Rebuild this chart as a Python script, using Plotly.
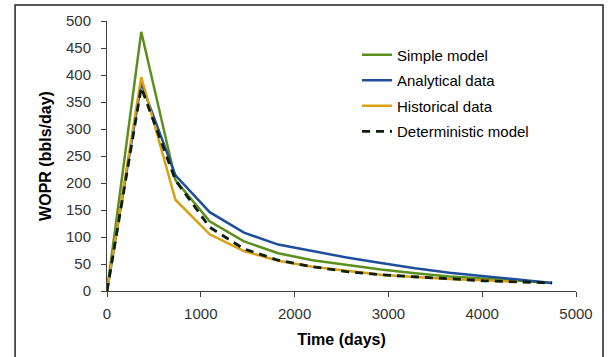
import plotly.graph_objects as go

days = [0, 365, 730, 1095, 1460, 1825, 2190, 2555, 2920, 3285, 3650, 4015, 4380, 4745]
simple_model = [0, 480, 205, 129, 92, 70, 57, 48, 40, 33, 27, 23, 19, 15]
analytical = [0, 385, 214, 146, 108, 86, 74, 62, 52, 42, 34, 28, 22, 15]
historical_days = [0, 365, 730, 1095, 1460, 1825, 2190, 2555, 2920, 3285, 3650, 4015, 4380]
historical = [0, 396, 169, 105, 74, 56, 45, 37, 30, 26, 22, 20, 17]
deterministic = [0, 377, 205, 118, 78, 57, 45, 36, 30, 26, 22, 19, 17, 15]

x_ticks = [0, 1000, 2000, 3000, 4000, 5000]
y_ticks = list(range(0, 501, 50))

fig = go.Figure()
fig.add_trace(go.Scatter(x=days, y=simple_model, mode="lines", name="Simple model",
                         legendgroup="a", line=dict(color="#5b8f1e", width=2.5)))
fig.add_trace(go.Scatter(x=days, y=analytical, mode="lines", name="Analytical data",
                         legendgroup="b", line=dict(color="#1f4f9a", width=2.5)))
fig.add_trace(go.Scatter(x=historical_days, y=historical, mode="lines", name="Historical data",
                         legendgroup="c", line=dict(color="#d9a013", width=2.5)))
fig.add_trace(go.Scatter(x=days, y=deterministic, mode="lines", name="Deterministic model",
                         legendgroup="d", line=dict(color="#0c1f0c", width=2.8, dash="8px,6px")))

axis_font = dict(family="Liberation Sans, Arial, sans-serif", size=15, color="#333333")
title_font = dict(family="Liberation Sans, Arial, sans-serif", size=16, color="#000000")

fig.update_layout(
    width=609, height=357,
    margin=dict(l=107, r=33, t=21, b=64),
    paper_bgcolor="white", plot_bgcolor="white",
    showlegend=True,
    legend=dict(x=0.533, y=0.935, xanchor="left", yanchor="top",
                font=dict(family="Liberation Sans, Arial, sans-serif", size=15, color="#000000"),
                bgcolor="rgba(0,0,0,0)", tracegroupgap=3),
    xaxis=dict(range=[0, 5000], tickvals=x_ticks, ticktext=[str(v) for v in x_ticks],
               showgrid=False, zeroline=False, showline=True, linecolor="#404040", linewidth=1,
               ticks="outside", ticklen=5, tickcolor="#404040", tickfont=axis_font,
               ticklabelstandoff=4,
               title=dict(text="<b>Time (days)</b>", font=title_font, standoff=12)),
    yaxis=dict(range=[0, 500], tickvals=y_ticks, ticktext=[str(v) for v in y_ticks],
               showgrid=False, zeroline=False, showline=True, linecolor="#404040", linewidth=1,
               ticks="outside", ticklen=5, tickcolor="#404040", tickfont=axis_font,
               ticklabelstandoff=7,
               title=dict(text="<b>WOPR (bbls/day)</b>", font=title_font, standoff=10)),
    shapes=[dict(type="rect", xref="paper", yref="paper",
                 x0=-0.196, x1=1.0576, y0=-0.25, y1=1.0588,
                 line=dict(color="#222222", width=1.5), fillcolor="rgba(0,0,0,0)", layer="below")],
)

fig.write_html("out.html")
